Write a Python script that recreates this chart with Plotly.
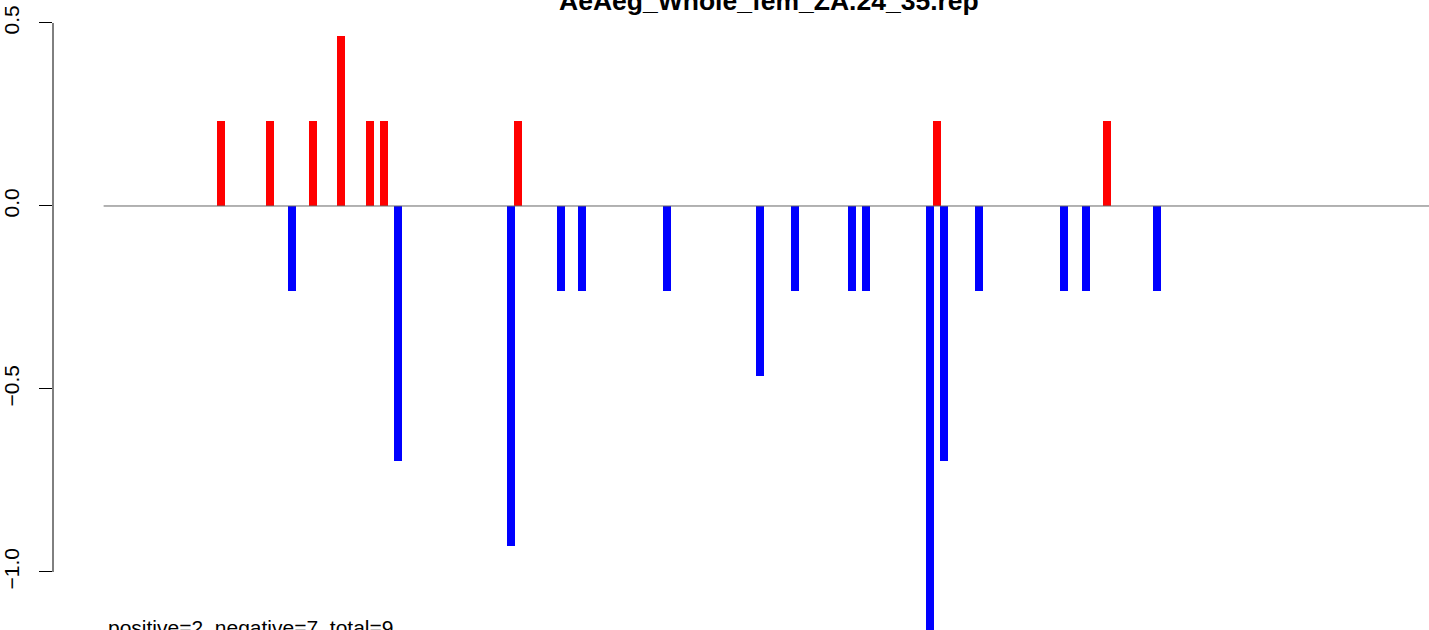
import plotly.graph_objects as go

# ---- data ----
title_text = "AeAeg_Whole_fem_ZA.24_35.rep"
summary_text = "positive=2, negative=7, total=9"

pos_x = [0, 7, 13, 17, 21, 23, 42, 101, 125]
pos_y = [0.2325, 0.2325, 0.2325, 0.465, 0.2325, 0.2325, 0.2325, 0.2325, 0.2325]

neg_x = [10, 25, 41, 48, 51, 63, 76, 81, 89, 91, 100, 102, 107, 119, 122, 132]
neg_y = [-0.2325, -0.6975, -0.93, -0.2325, -0.2325, -0.2325, -0.465, -0.2325,
         -0.2325, -0.2325, -1.1625, -0.6975, -0.2325, -0.2325, -0.2325, -0.2325]

ytick_vals = [-1.0, -0.5, 0.0, 0.5]
ytick_text = ["\u22121.0", "\u22120.5", "0.0", "0.5"]

x_start = -16.5   # start of baseline / summary text
x_end = 175

FONT = "Liberation Sans, Arial, Helvetica, sans-serif"
BAR_W = 1.126

fig = go.Figure()
fig.add_trace(go.Bar(x=pos_x, y=pos_y, width=BAR_W, marker=dict(color="#FF0000", line=dict(width=0)),
                     showlegend=False, hoverinfo="x+y"))
fig.add_trace(go.Bar(x=neg_x, y=neg_y, width=BAR_W, marker=dict(color="#0000FF", line=dict(width=0)),
                     showlegend=False, hoverinfo="x+y"))

# baseline at 0
fig.add_shape(type="line", xref="x", yref="y", x0=x_start, x1=x_end, y0=0, y1=0,
              line=dict(color="#666666", width=1), layer="above")
# R-style y axis line spanning the tick range only
fig.add_shape(type="line", xref="paper", yref="y", x0=0, x1=0, y0=min(ytick_vals), y1=max(ytick_vals),
              line=dict(color="black", width=1))

fig.add_annotation(text="<b>" + title_text + "</b>", xref="paper", yref="paper", x=0.5207, y=1,
                   xanchor="center", yanchor="middle", yshift=-1, showarrow=False,
                   font=dict(family=FONT, size=26.5, color="black"))
fig.add_annotation(text=summary_text, xref="paper", yref="paper", x=0.0384, y=0,
                   xanchor="left", yanchor="middle", yshift=3, showarrow=False,
                   font=dict(family=FONT, size=21, color="black"))

fig.update_layout(
    width=1429, height=630,
    margin=dict(l=50, r=0, t=0, b=0),
    paper_bgcolor="white", plot_bgcolor="white",
    barmode="overlay", bargap=0,
    font=dict(family=FONT, size=21, color="black"),
    showlegend=False,
    xaxis=dict(range=[-23.64, 170.42], visible=False, showgrid=False, zeroline=False),
    yaxis=dict(range=[-1.1585, 0.5628], tickvals=ytick_vals, ticktext=ytick_text,
               tickangle=-90, ticks="outside", ticklen=13, tickwidth=1, tickcolor="black",
               showline=False, showgrid=False, zeroline=False, ticklabelstandoff=12,
               tickfont=dict(family=FONT, size=21, color="black")),
)

fig.write_html("out.html", config={"displayModeBar": False},
               post_script="document.body.style.margin='0';document.body.style.overflow='hidden';")
